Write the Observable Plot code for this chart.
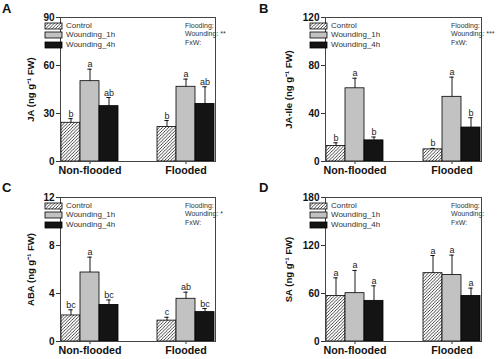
<!DOCTYPE html>
<html><head><meta charset="utf-8">
<script src="https://cdn.jsdelivr.net/npm/d3@7"></script>
<script src="https://cdn.jsdelivr.net/npm/@observablehq/plot@0.6"></script>
<style>
body{margin:0;background:#fff;font-family:"Liberation Sans",Arial,sans-serif;}
#fig{position:relative;width:502px;height:359px;overflow:hidden;background:#fff;}
.panel{position:absolute;}
.plabel{position:absolute;font-weight:bold;font-size:13px;color:#111;}
.stats{position:absolute;font-size:7px;line-height:8.3px;color:#333;white-space:pre;}
.leg{position:absolute;color:#333;}
.leg svg rect{stroke:#000;stroke-width:0.8px;}
</style></head>
<body>
<svg width="0" height="0" style="position:absolute"><defs>
<pattern id="hatch" patternUnits="userSpaceOnUse" width="3.2" height="3.2">
<rect width="3.2" height="3.2" fill="#fff"/>
<path d="M-1,1 l2,-2 M0,3.2 l3.2,-3.2 M2.2,4.2 l2,-2" stroke="#1a1a1a" stroke-width="0.8"/>
</pattern></defs></svg>
<div id="fig"></div>
<script>
// ---- data ----
const groups = ["Non-flooded", "Flooded"];
const treatments = ["Control", "Wounding_1h", "Wounding_4h"];

const jaValues = [24.2, 50.2, 34.6, 21.5, 46.7, 36.0];
const jaErrors = [2.6, 7.5, 5.4, 4.1, 4.8, 10.7];
const jaLetters = ["b", "a", "ab", "b", "a", "ab"];
const jaTicks = [0, 30, 60, 90];

const jaIleValues = [13.0, 61.0, 17.6, 10.1, 53.9, 28.3];
const jaIleErrors = [2.6, 8.4, 2.8, 0.8, 16.4, 8.2];
const jaIleLetters = ["b", "a", "b", "b", "a", "b"];
const jaIleTicks = [0, 40, 80, 120];

const abaValues = [2.17, 5.75, 3.05, 1.74, 3.56, 2.45];
const abaErrors = [0.47, 1.28, 0.41, 0.28, 0.55, 0.3];
const abaLetters = ["bc", "a", "bc", "c", "ab", "bc"];
const abaTicks = [0, 4, 8, 12];

const saValues = [57.0, 60.4, 50.8, 85.4, 83.0, 57.0];
const saErrors = [22.6, 28.4, 18.8, 22.1, 25.0, 9.7];
const saLetters = ["a", "a", "a", "a", "a", "a"];
const saTicks = [0, 60, 120, 180];

const statNames = ["Flooding:", "Wounding:", "FxW:"];
const woundingStars = ["**", "***", "*", ""];
const yLabels = ["JA (ng g⁻¹ FW)", "JA-Ile (ng g⁻¹ FW)", "ABA (ng g⁻¹ FW)", "SA (ng g⁻¹ FW)"];
const panelLetters = ["A", "B", "C", "D"];

// ---- style ----
const fills = ["url(#hatch)", "#c2c2c2", "#141414"];
const FONT = '"Liberation Sans", Arial, sans-serif';

const series = [
  [jaValues, jaErrors, jaLetters, jaTicks],
  [jaIleValues, jaIleErrors, jaIleLetters, jaIleTicks],
  [abaValues, abaErrors, abaLetters, abaTicks],
  [saValues, saErrors, saLetters, saTicks]
];
// layout per panel: div left/top, margins, label offset
const layout = [
  {left: 0,   top: 0,   mL: 39, mR: 19, mT: 17, mB: 19, lo: 33},
  {left: 251, top: 0,   mL: 53, mR: 4,  mT: 17, mB: 19, lo: 40},
  {left: 0,   top: 179, mL: 39, mR: 19, mT: 18, mB: 18, lo: 33},
  {left: 251, top: 179, mL: 53, mR: 4,  mT: 18, mB: 18, lo: 40}
];

const fig = document.getElementById("fig");

series.forEach(([values, errors, letters, ticks], i) => {
  const L = layout[i];
  const rows = groups.flatMap((g, gi) => treatments.map((t, ti) => {
    const k = gi * 3 + ti;
    return {group: g, treatment: t, value: values[k], err: errors[k], letter: letters[k]};
  }));
  const top = d => d.value + d.err;
  const chart = Plot.plot({
    width: 251, height: 180,
    marginLeft: L.mL, marginRight: L.mR, marginTop: L.mT, marginBottom: L.mB,
    style: {fontFamily: FONT, fontSize: "9px", background: "transparent", overflow: "visible", color: "#111"},
    fx: {domain: groups, paddingInner: 0.39, paddingOuter: 0.19, align: 0.545, label: null},
    x: {domain: treatments, padding: 0, axis: null},
    y: {domain: [0, ticks[ticks.length - 1]], nice: false},
    color: {type: "ordinal", domain: treatments, range: fills},
    marks: [
      Plot.barY(rows, {fx: "group", x: "treatment", y: "value", fill: "treatment", stroke: "#000", strokeWidth: 0.8}),
      Plot.ruleX(rows, {fx: "group", x: "treatment", y1: "value", y2: top, stroke: "#000", strokeWidth: 0.9}),
      Plot.tickY(rows, {fx: "group", x: "treatment", y: top, stroke: "#000", strokeWidth: 0.9, insetLeft: 7.3, insetRight: 7.3}),
      Plot.text(rows, {fx: "group", x: "treatment", y: top, text: "letter", dy: -2, lineAnchor: "bottom", fontSize: 9, fill: "#222"}),
      Plot.axisY({ticks: ticks, tickSize: 4, tickPadding: 2, fontWeight: "bold", fontSize: 10, stroke: "#333",
                  label: yLabels[i], labelAnchor: "center", labelArrow: "none", labelOffset: L.lo}),
      Plot.axisFx({anchor: "bottom", tickSize: 3, tickPadding: 2, fontWeight: "bold", fontSize: 10.7, label: null, stroke: "#333"}),
      Plot.frame({facet: "super", stroke: "#444", strokeWidth: 1})
    ]
  });
  const div = document.createElement("div");
  div.className = "panel";
  div.style.left = L.left + "px";
  div.style.top = L.top + "px";
  div.appendChild(chart);
  fig.appendChild(div);

  // bold the y label
  d3.select(chart).selectAll("text").filter(function(){ return this.textContent === yLabels[i]; })
    .attr("font-weight", "bold").attr("font-size", 9.5);

  // panel letter
  const pl = document.createElement("div");
  pl.className = "plabel";
  pl.textContent = panelLetters[i];
  pl.style.left = (L.left + 2 + (i % 2) * 6) + "px";
  pl.style.top = (L.top + 1) + "px";
  fig.appendChild(pl);

  // legend
  const leg = Plot.legend({
    color: {type: "ordinal", domain: treatments, range: fills},
    columns: 1, swatchWidth: 17, swatchHeight: 6,
    style: {fontFamily: FONT, fontSize: "8px", lineHeight: "8.3px", color: "#333", margin: 0}
  });
  const lw = document.createElement("div");
  lw.className = "leg";
  lw.style.left = (L.left + L.mL + 6) + "px";
  lw.style.top = (L.top + L.mT + 5) + "px";
  lw.appendChild(leg);
  fig.appendChild(lw);

  // statistics text
  const st = document.createElement("div");
  st.className = "stats";
  st.textContent = statNames.map((s, j) => j === 1 && woundingStars[i] ? s + " " + woundingStars[i] : s).join("\n");
  st.style.left = (L.left + 251 - L.mR - 47) + "px";
  st.style.top = (L.top + L.mT + 5) + "px";
  fig.appendChild(st);
});
</script>
</body></html>
